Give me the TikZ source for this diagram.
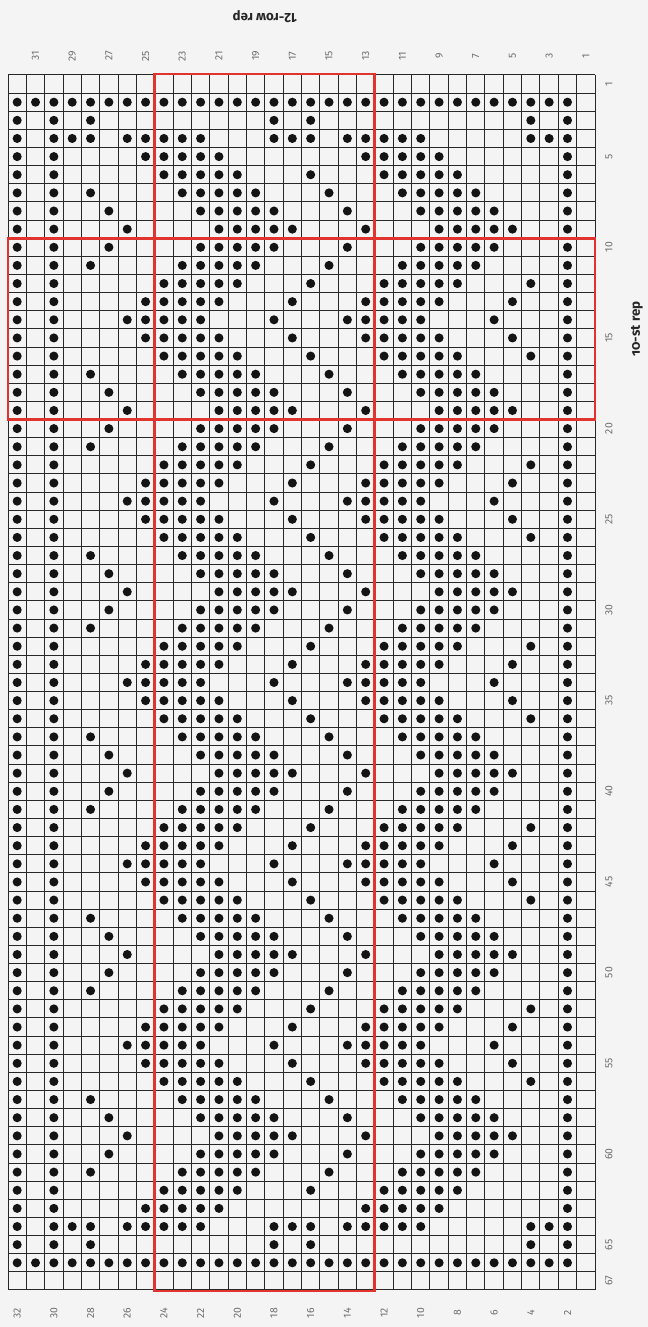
\documentclass[tikz,border=0pt]{standalone}
\usepackage{fontspec}
\setmainfont{Fira Sans}
\definecolor{bg}{RGB}{244,244,244}
\definecolor{gridc}{RGB}{40,40,40}
\definecolor{repred}{RGB}{226,52,46}
\definecolor{numc}{RGB}{110,110,110}
\definecolor{dotc}{RGB}{20,20,20}
\tikzset{
  gridline/.style={draw=gridc, line width=0.75pt},
  stdot/.style={fill=dotc, draw=none},
  repbox/.style={draw=repred, line width=2.2pt},
  numlabel/.style={text=numc, font=\fontsize{7.8}{8}\selectfont, inner sep=0pt, rotate=90},
  replabel/.style={text=black!85, font=\bfseries\fontsize{10}{12}\selectfont, inner sep=0pt},
}
% main repeat patterns (columns from left, 1..32)
\def\pA{1,3,5,10,11,12,13,14,18,22,23,24,25,26,31}
\def\pZ{1,3,6,11,12,13,14,15,19,23,24,25,26,27,31}
\def\pN{1,3,7,12,13,14,15,16,20,24,25,26,27,28,31}
\def\pB{1,3,9,10,11,12,13,17,21,22,23,24,25,29,31}
\def\pC{1,3,8,9,10,11,12,16,20,21,22,23,24,28,31}
\def\pD{1,3,7,8,9,10,11,15,19,20,21,22,23,27,31}
% border rows
\def\pbE{1,...,31}
\def\pbF{1,3,5,15,17,29,31}
\def\pbG{1,3,4,5,7,8,9,10,11,15,16,17,19,20,21,22,23,29,30,31}
\def\pbH{1,3,8,9,10,11,12,20,21,22,23,24,31}
\def\pbI{1,3,9,10,11,12,13,17,21,22,23,24,25,31}
\begin{document}
\begin{tikzpicture}[x=0.75pt,y=-0.75pt]
\fill[bg] (0,0) rectangle (648,1327);
\useasboundingbox (0,0) rectangle (648,1327);
% grid
\foreach \i in {0,...,32}
  \draw[gridline] ({8+\i*18.344},75) -- ({8+\i*18.344},1290);
\foreach \j in {0,...,67}
  \draw[gridline] (8,{75+\j*18.134}) -- (595,{75+\j*18.134});
% dots, main part
\foreach \s in {7,...,61}{
  \pgfmathtruncatemacro\m{mod(\s,10)}
  \ifcase\m \let\cur\pZ\or\let\cur\pA\or\let\cur\pB\or\let\cur\pC\or\let\cur\pD\or
    \let\cur\pC\or\let\cur\pB\or\let\cur\pA\or\let\cur\pZ\or\let\cur\pN\fi
  \foreach \c in \cur {
    \fill[stdot] ({8+(\c-0.5)*18.344},{75+(\s-0.5)*18.134}) circle[radius=3.4pt];
  }
}
% dots, border rows
\foreach \s/\p in {2/E,3/F,4/G,5/H,6/I,62/I,63/H,64/G,65/F,66/E}{
  \expandafter\let\expandafter\cur\csname pb\p\endcsname
  \foreach \c in \cur {
    \fill[stdot] ({8+(\c-0.5)*18.344},{75+(\s-0.5)*18.134}) circle[radius=3.4pt];
  }
}
% repeat boxes
\draw[repbox] (154.75,74) rectangle (374.9,1291);
\draw[repbox] (8,238.2) rectangle (595,419.5);
% row numbers
\foreach \r in {31,29,...,1}
  \node[numlabel] (top\r) at ({8+(32.5-\r)*18.344},56) {\r};
\foreach \r in {32,30,...,2}
  \node[numlabel] (bot\r) at ({8+(32.5-\r)*18.344},1313) {\r};
% stitch numbers
\foreach \s in {1,5,10,15,...,65,67}
  \node[numlabel] (st\s) at (609,{75+(\s-0.5)*18.134}) {\s};
% repeat labels
\node[replabel, rotate=180] (rowrep) at (265,17) {12-row rep};
\node[replabel, rotate=90] (strep) at (637,329) {\addfontfeatures{Numbers=OldStyle}10-st rep};
\end{tikzpicture}
\end{document}
